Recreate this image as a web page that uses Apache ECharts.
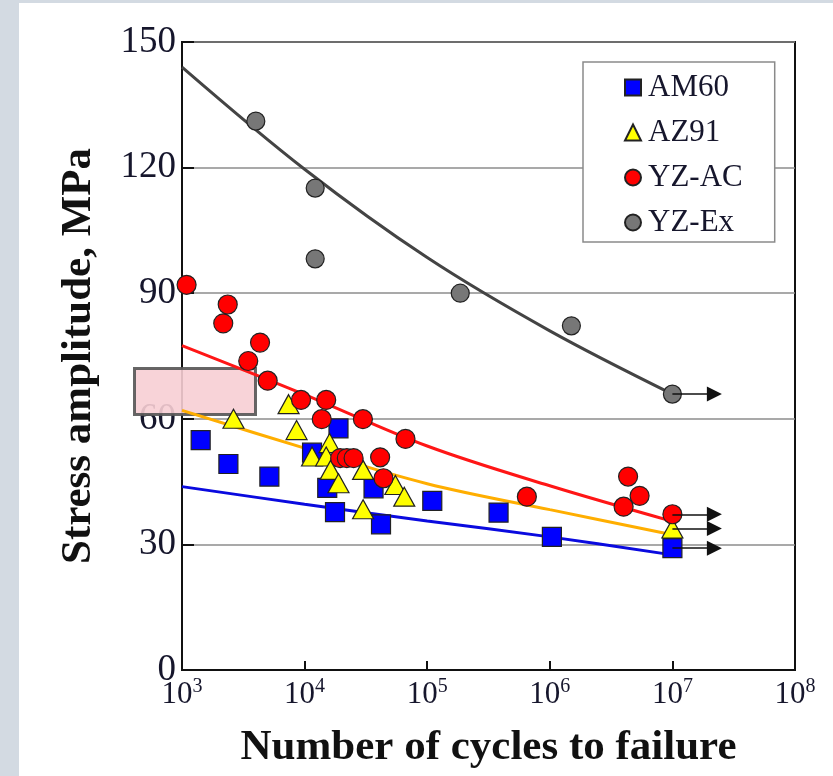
<!DOCTYPE html>
<html>
<head>
<meta charset="utf-8">
<script src="https://cdn.jsdelivr.net/npm/echarts@6/dist/echarts.min.js"></script>
<style>
  html, body { margin: 0; padding: 0; width: 833px; height: 776px; overflow: hidden; background: #d3dae2; }
  #panel { position: absolute; left: 19px; top: 3px; right: 0; bottom: 0; background: #ffffff; }
  #chart { position: absolute; left: 0; top: 0; width: 833px; height: 776px; }
</style>
</head>
<body>
<div id="panel"></div>
<div id="chart"></div>
<script>
// Fatigue (S-N) data: cycles to failure vs. stress amplitude (MPa)
const seriesNames = ['AM60', 'AZ91', 'YZ-AC', 'YZ-Ex'];

const am60Cycles = [1.42e3, 2.39e3, 5.16e3, 1.89e4, 1.15e4, 1.53e4, 3.65e4, 1.77e4, 4.2e4, 1.1e5, 3.82e5, 1.04e6, 1e7];
const am60Stress = [54.9, 49.2, 46.2, 57.7, 51.9, 43.5, 43.4, 37.7, 34.8, 40.4, 37.6, 31.8, 29.1];

const az91Cycles = [2.63e3, 7.4e3, 8.6e3, 1.6e4, 1.15e4, 1.5e4, 1.63e4, 1.89e4, 3.0e4, 3.0e4, 5.5e4, 6.5e4, 1e7];
const az91Stress = [60.0, 63.5, 57.3, 54.2, 51.0, 51.0, 47.8, 44.6, 47.8, 38.4, 44.2, 41.4, 33.8];

const yzacCycles = [1.09e3, 2.36e3, 2.17e3, 4.33e3, 3.47e3, 5.0e3, 9.35e3, 1.5e4, 1.38e4, 2.99e4, 6.65e4, 1.95e4, 2.21e4, 2.51e4, 4.13e4, 4.4e4, 6.5e5, 4.35e6, 5.4e6, 4.0e6, 1e7];
const yzacStress = [92.0, 87.3, 82.8, 78.2, 73.8, 69.1, 64.5, 64.5, 59.9, 59.9, 55.2, 50.6, 50.6, 50.6, 50.8, 45.8, 41.4, 46.2, 41.6, 39.0, 37.2];

const yzexCycles = [4.0e3, 1.22e4, 1.22e4, 1.86e5, 1.5e6, 1e7];
const yzexStress = [131.1, 115.1, 98.2, 90.0, 82.2, 65.9];

// Fitted S-N curves, sampled per decade
const fitCycles = [1e3, 1e4, 1e5, 1e6, 1e7];
const am60Fit = [43.8, 39.6, 35.6, 31.8, 27.5];
const az91Fit = [62.0, 53.0, 44.5, 38.3, 32.3];
const yzacFit = [77.5, 65.8, 53.5, 44.0, 35.5];
const yzexFit = [144.0, 119.6, 98.5, 81.0, 65.9];

// Run-out specimens (no failure at 10^7 cycles)
const runoutCycles = 1e7;
const runoutArrowEnd = 2.2e7;

// Axis ticks
const xTickExponents = [3, 4, 5, 6, 7, 8];
const yTicks = [0, 30, 60, 90, 120, 150];

const zip = (xs, ys) => xs.map((x, i) => [x, ys[i]]);

const serif = '"Liberation Serif", "Times New Roman", serif';
const textColor = '#16162c';

const colors = {
  'AM60': '#0000ff',
  'AZ91': '#ffff00',
  'YZ-AC': '#ff0000',
  'YZ-Ex': '#777777'
};
const lineColors = {
  'AM60': '#0a0adf',
  'AZ91': '#ffae00',
  'YZ-AC': '#ff1616',
  'YZ-Ex': '#444444'
};

function fitSeries(name, values) {
  return {
    name: name + ' fit',
    type: 'line',
    data: zip(fitCycles, values),
    smooth: 0.35,
    showSymbol: false,
    silent: true,
    z: 2,
    lineStyle: { color: lineColors[name], width: 3 }
  };
}

function runout(value) {
  return {
    silent: true,
    symbol: ['none', 'triangle'],
    symbolSize: 15,
    lineStyle: { color: '#111', width: 1.5, type: 'solid' },
    label: { show: false },
    data: [[{ coord: [runoutCycles, value] }, { coord: [runoutArrowEnd, value] }]]
  };
}

function scatterSeries(name, xs, ys, symbol, size) {
  return {
    name: name,
    type: 'scatter',
    data: zip(xs, ys),
    symbol: symbol,
    symbolSize: size,
    z: 3,
    itemStyle: { color: colors[name], borderColor: '#222', borderWidth: 1.2, opacity: 1 },
    markLine: runout(ys[ys.length - 1])
  };
}

// Dotted pink fill for the boxed label patch
const patternCanvas = document.createElement('canvas');
patternCanvas.width = 2; patternCanvas.height = 2;
const pctx = patternCanvas.getContext('2d');
pctx.fillStyle = '#ffffff'; pctx.fillRect(0, 0, 2, 2);
pctx.fillStyle = '#f2a0aa'; pctx.fillRect(0, 0, 1, 1); pctx.fillRect(1, 1, 1, 1);

const chart = echarts.init(document.getElementById('chart'), null, { renderer: 'canvas' });

chart.setOption({
  animation: false,
  backgroundColor: 'transparent',
  grid: {
    left: 182, right: 38, top: 42, bottom: 106,
    outerBoundsMode: 'none',
    containLabel: false,
    show: true, borderColor: '#111', borderWidth: 2, backgroundColor: 'transparent'
  },
  legend: {
    data: seriesNames.map(n => ({ name: n })),
    orient: 'vertical',
    left: 583, top: 62,
    padding: [10, 32, 4, 41],
    itemGap: 14,
    itemWidth: 16, itemHeight: 16,
    backgroundColor: '#ffffff',
    borderColor: '#8a8a8a', borderWidth: 1.5,
    textStyle: { fontFamily: serif, fontSize: 31, color: textColor, padding: [0, 0, 0, 2] },
    selectedMode: false
  },
  xAxis: {
    type: 'log',
    logBase: 10,
    min: Math.pow(10, xTickExponents[0]),
    max: Math.pow(10, xTickExponents[xTickExponents.length - 1]),
    interval: 1,
    name: 'Number of cycles to failure',
    nameLocation: 'middle',
    nameGap: 56,
    nameTextStyle: { fontFamily: serif, fontWeight: 'bold', fontSize: 43, color: '#111' },
    axisLine: { show: true, lineStyle: { color: '#111', width: 2 } },
    axisTick: { show: true, inside: true, length: 9, lineStyle: { color: '#111', width: 2 } },
    splitLine: { show: false },
    minorTick: { show: false },
    axisLabel: {
      margin: 7,
      formatter: function (v) {
        const e = Math.round(Math.log10(v));
        return xTickExponents.indexOf(e) >= 0 ? '{b|10}{s|' + e + '}' : '';
      },
      rich: {
        b: { fontFamily: serif, fontSize: 31, color: textColor },
        s: { fontFamily: serif, fontSize: 20, color: textColor, padding: [0, 0, 16, 0] }
      }
    }
  },
  yAxis: {
    type: 'value',
    min: yTicks[0],
    max: yTicks[yTicks.length - 1],
    interval: yTicks[1] - yTicks[0],
    name: 'Stress amplitude, MPa',
    nameLocation: 'middle',
    nameGap: 82,
    nameRotate: 90,
    nameTextStyle: { fontFamily: serif, fontWeight: 'bold', fontSize: 43, color: '#111' },
    axisLine: { show: true, lineStyle: { color: '#111', width: 2 } },
    axisTick: { show: true, inside: true, length: 12, lineStyle: { color: '#111', width: 2 } },
    splitLine: { show: true, lineStyle: { color: '#8c8c8c', width: 1.5 } },
    axisLabel: { margin: 6, fontFamily: serif, fontSize: 37, color: textColor }
  },
  graphic: [{
    type: 'rect',
    left: 133, top: 367,
    shape: { width: 121, height: 46 },
    style: { fill: { image: patternCanvas, repeat: 'repeat' }, stroke: '#555555', lineWidth: 3, opacity: 0.9 },
    z: 1
  }],
  series: [
    fitSeries('AM60', am60Fit),
    fitSeries('AZ91', az91Fit),
    fitSeries('YZ-AC', yzacFit),
    fitSeries('YZ-Ex', yzexFit),
    scatterSeries('AM60', am60Cycles, am60Stress, 'rect', 19),
    scatterSeries('AZ91', az91Cycles, az91Stress, 'triangle', [21, 19]),
    scatterSeries('YZ-AC', yzacCycles, yzacStress, 'circle', 19),
    scatterSeries('YZ-Ex', yzexCycles, yzexStress, 'circle', 18)
  ]
});
</script>
</body>
</html>
